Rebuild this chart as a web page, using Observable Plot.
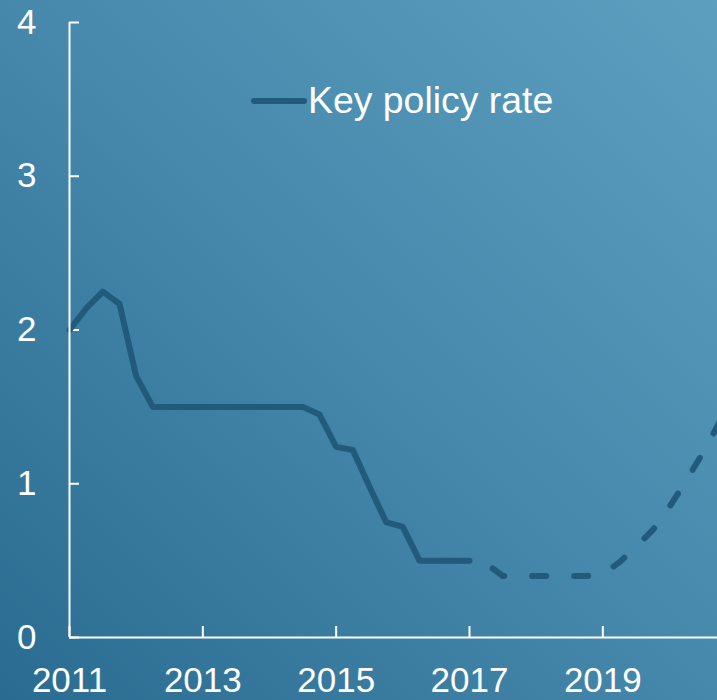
<!DOCTYPE html>
<html><head><meta charset="utf-8">
<script src="https://cdn.jsdelivr.net/npm/d3@7"></script>
<script src="https://cdn.jsdelivr.net/npm/@observablehq/plot@0.6"></script>
<style>
html,body{margin:0;padding:0;}
body{width:717px;height:700px;overflow:hidden;background:linear-gradient(to top right,#2a6c91 0%,#4588ab 50%,#5d9fbf 100%);font-family:"Liberation Sans",Arial,sans-serif;}
#chart{position:relative;width:717px;height:700px;}
#legend{position:absolute;left:250px;top:80px;}
</style>
</head><body>
<div id="chart"></div>
<script>
// Actual key policy rate (quarterly)
const actualYears = [2011.0,2011.25,2011.5,2011.75,2012.0,2012.25,2012.5,2012.75,2013.0,2013.25,2013.5,2013.75,2014.0,2014.25,2014.5,2014.75,2015.0,2015.25,2015.5,2015.75,2016.0,2016.25,2016.5,2016.75,2017.0];
const actualRates = [2.0,2.14,2.25,2.17,1.70,1.5,1.5,1.5,1.5,1.5,1.5,1.5,1.5,1.5,1.5,1.45,1.24,1.22,0.98,0.75,0.72,0.5,0.5,0.5,0.5];
// Projection (dashed)
const forecastYears = [2017.0,2017.25,2017.5,2017.75,2018.0,2018.25,2018.5,2018.75,2019.0,2019.25,2019.5,2019.75,2020.0,2020.25,2020.5,2020.75];
const forecastRates = [0.5,0.48,0.40,0.40,0.40,0.40,0.40,0.40,0.41,0.49,0.59,0.70,0.85,1.02,1.20,1.40];
const xTicks = [2011,2013,2015,2017,2019];
const yTicks = [0,1,2,3,4];
const seriesName = "Key policy rate";

const lineColor = "#215a7b";
const actual = actualYears.map((y,i)=>({year:y, rate:actualRates[i]}));
const forecast = forecastYears.map((y,i)=>({year:y, rate:forecastRates[i]}));

const plot = Plot.plot({
  width: 717, height: 700,
  marginLeft: 69, marginRight: 0, marginTop: 22, marginBottom: 63,
  style: {background: "transparent", color: "white", fontFamily: "'Liberation Sans', Arial, sans-serif", fontSize: "35px"},
  x: {domain: [2011, 2020.72]},
  y: {domain: [0, 4]},
  marks: [
    Plot.axisX({ticks: xTicks, tickFormat: d => String(d), tickSize: -11, tickPadding: 41, label: null, strokeWidth: 2, stroke: "white", fill: "white"}),
    Plot.axisY({ticks: yTicks, tickFormat: d => String(d), tickSize: -10, tickPadding: 43, label: null, strokeWidth: 2, stroke: "white", fill: "white"}),
    Plot.line(actual, {x: "year", y: "rate", stroke: lineColor, strokeWidth: 6, strokeLinejoin: "round"}),
    Plot.line(forecast, {x: "year", y: "rate", stroke: lineColor, strokeWidth: 6, strokeLinejoin: "round", strokeLinecap: "round", strokeDasharray: "14 28", strokeDashoffset: 17}),
    Plot.ruleX([2011], {y1: 0, y2: 4, stroke: "white", strokeWidth: 2}),
    Plot.ruleY([0], {stroke: "white", strokeWidth: 2})
  ]
});
const chart = document.getElementById("chart");
chart.appendChild(plot);

// Legend
const ns = "http://www.w3.org/2000/svg";
const lg = document.createElementNS(ns, "svg");
lg.setAttribute("id", "legend");
lg.setAttribute("width", "380");
lg.setAttribute("height", "50");
const sw = document.createElementNS(ns, "line");
sw.setAttribute("x1", "4"); sw.setAttribute("x2", "54");
sw.setAttribute("y1", "21"); sw.setAttribute("y2", "21");
sw.setAttribute("stroke", lineColor); sw.setAttribute("stroke-width", "6"); sw.setAttribute("stroke-linecap", "round");
lg.appendChild(sw);
const tx = document.createElementNS(ns, "text");
tx.setAttribute("x", "58"); tx.setAttribute("y", "33");
tx.setAttribute("fill", "white");
tx.setAttribute("font-size", "37.4");
tx.setAttribute("font-family", "'Liberation Sans', Arial, sans-serif");
tx.textContent = seriesName;
lg.appendChild(tx);
chart.appendChild(lg);
</script>
</body></html>
